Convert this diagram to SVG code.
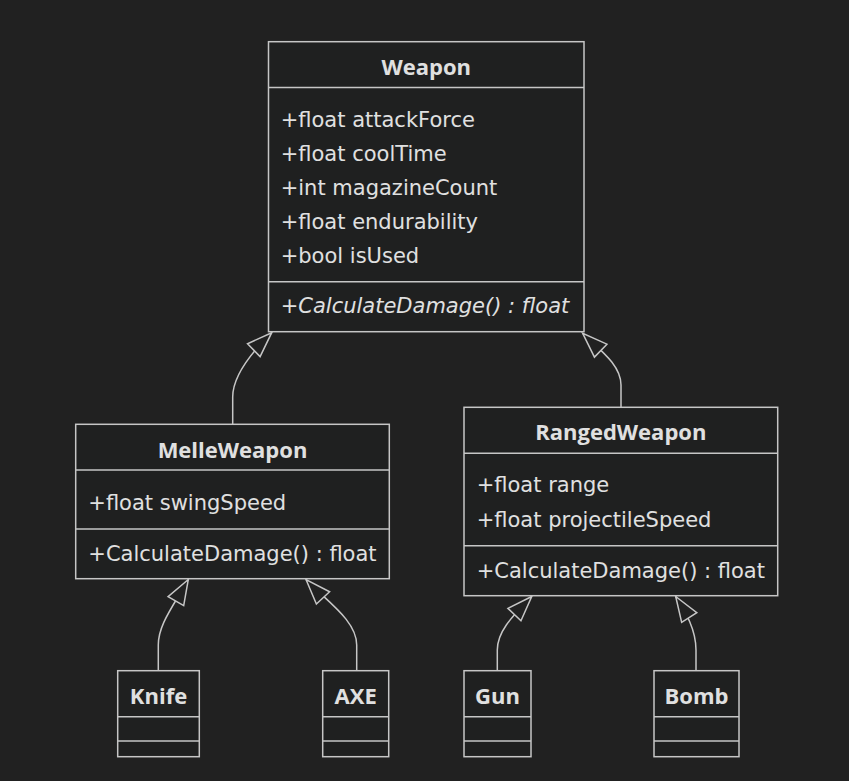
<svg xmlns="http://www.w3.org/2000/svg" width="849" height="781" viewBox="0 0 849 781">
<style>
.box{fill:#1f2020;stroke:#c6c6c6;stroke-width:1.5}
.div{stroke:#c6c6c6;stroke-width:1.5}
.t{font-family:"DejaVu Sans",sans-serif;font-size:21px;fill:#e0e0e0}
.h{font-family:"Open Sans","DejaVu Sans",sans-serif;font-size:22px;font-weight:bold;fill:#e0e0e0;text-anchor:middle}
.i{font-style:italic}
.edge{fill:none;stroke:#c6c6c6;stroke-width:1.5}
</style>
<defs>
<marker id="ext" markerUnits="userSpaceOnUse" viewBox="-27 -11 29 22" refX="0" refY="0" markerWidth="29" markerHeight="22" orient="auto">
<path d="M0,0 L-25,-9 L-25,9 Z" fill="#212121" stroke="#c6c6c6" stroke-width="1.5" stroke-linejoin="miter"/>
</marker>
</defs>
<rect width="849" height="781" fill="#212121"/>
<g id="connectors">
<path class="edge" d="M232.7,424.3 L232.7,397 C232.7,375 255,349 271.7,332.7" marker-end="url(#ext)"/>
<path class="edge" d="M621,407.3 L621,385 C621,365 600,350 582.7,333.3" marker-end="url(#ext)"/>
<path class="edge" d="M158.3,670.7 L158.3,645 C158.3,625 172,608 188.3,579.5" marker-end="url(#ext)"/>
<path class="edge" d="M356.7,670.7 L356.7,645 C356.7,620 325,600 306,579.5" marker-end="url(#ext)"/>
<path class="edge" d="M497.3,670.7 L497.3,650 C497.3,630 515,614 531.7,596.5" marker-end="url(#ext)"/>
<path class="edge" d="M696,670.7 L696,650 C696,630 686,612.5 675.7,596.5" marker-end="url(#ext)"/>
</g>
<g id="Weapon">
<rect class="box" x="268.5" y="41.7" width="315.5" height="290"/>
<line class="div" x1="268.5" y1="87.5" x2="584" y2="87.5"/>
<line class="div" x1="268.5" y1="281.7" x2="584" y2="281.7"/>
<text class="h" x="426.3" y="75">Weapon</text>
<text class="t" x="280.7" y="126.7">+float attackForce</text>
<text class="t" x="280.7" y="161">+float coolTime</text>
<text class="t" x="280.7" y="195">+int magazineCount</text>
<text class="t" x="280.7" y="229.3">+float endurability</text>
<text class="t" x="280.7" y="263.3">+bool isUsed</text>
<text class="t i" x="280.7" y="313.3">+CalculateDamage() : float</text>
</g>
<g id="MelleWeapon">
<rect class="box" x="75.7" y="424.3" width="313.6" height="154.4"/>
<line class="div" x1="75.7" y1="470" x2="389.3" y2="470"/>
<line class="div" x1="75.7" y1="529" x2="389.3" y2="529"/>
<text class="h" x="232.5" y="457.7">MelleWeapon</text>
<text class="t" x="88.3" y="510">+float swingSpeed</text>
<text class="t" x="88.3" y="561">+CalculateDamage() : float</text>
</g>
<g id="RangedWeapon">
<rect class="box" x="464" y="407.3" width="313.7" height="188.4"/>
<line class="div" x1="464" y1="453.3" x2="777.7" y2="453.3"/>
<line class="div" x1="464" y1="545.7" x2="777.7" y2="545.7"/>
<text class="h" x="620.8" y="440">RangedWeapon</text>
<text class="t" x="476.7" y="492.3">+float range</text>
<text class="t" x="476.7" y="526.7">+float projectileSpeed</text>
<text class="t" x="476.7" y="577.7">+CalculateDamage() : float</text>
</g>
<g id="Knife">
<rect class="box" x="117.7" y="670.7" width="81.6" height="86"/>
<line class="div" x1="117.7" y1="716.7" x2="199.3" y2="716.7"/>
<line class="div" x1="117.7" y1="741" x2="199.3" y2="741"/>
<text class="h" x="158.5" y="704">Knife</text>
</g>
<g id="AXE">
<rect class="box" x="322.7" y="670.7" width="66" height="86"/>
<line class="div" x1="322.7" y1="716.7" x2="388.7" y2="716.7"/>
<line class="div" x1="322.7" y1="741" x2="388.7" y2="741"/>
<text class="h" x="355.7" y="704">AXE</text>
</g>
<g id="Gun">
<rect class="box" x="464" y="670.7" width="67" height="86"/>
<line class="div" x1="464" y1="716.7" x2="531" y2="716.7"/>
<line class="div" x1="464" y1="741" x2="531" y2="741"/>
<text class="h" x="497.5" y="704">Gun</text>
</g>
<g id="Bomb">
<rect class="box" x="654" y="670.7" width="85" height="86"/>
<line class="div" x1="654" y1="716.7" x2="739" y2="716.7"/>
<line class="div" x1="654" y1="741" x2="739" y2="741"/>
<text class="h" x="696.5" y="704">Bomb</text>
</g>
</svg>
